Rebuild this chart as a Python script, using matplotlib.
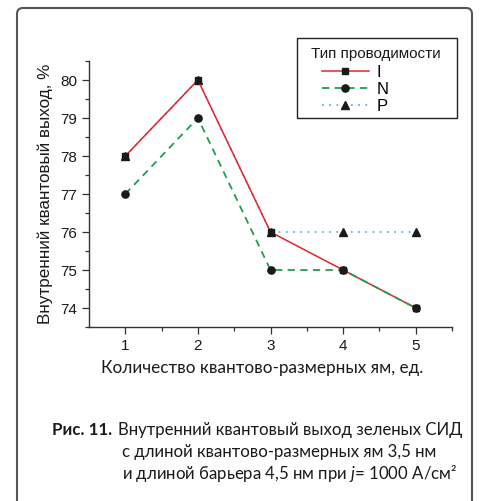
import matplotlib as mpl
mpl.use('Agg')
import matplotlib.pyplot as plt
from matplotlib.patches import FancyBboxPatch, Rectangle

# data
wells = [1, 2, 3, 4, 5]
eff_i = [78, 80, 76, 75, 74]
eff_n = [77, 79, 75, 75, 74]
eff_p = [78, 80, 76, 76, 76]
series_labels = ['I', 'N', 'P']
legend_title = 'Тип проводимости'
xlabel = 'Количество квантово-размерных ям, ед.'
ylabel = 'Внутренний квантовый выход, %'

plt.rcParams['font.family'] = ['Liberation Sans', 'DejaVu Sans']
plt.rcParams['mathtext.fontset'] = 'custom'
plt.rcParams['mathtext.rm'] = 'Lato'
plt.rcParams['mathtext.it'] = 'Lato:italic'

W, H = 482, 501


def fx(px):
    return px / W


def fy(py):
    return 1 - py / H


fig = plt.figure(figsize=(4.82, 5.01), dpi=100)
ax = fig.add_axes([fx(89), fy(327), fx(452) - fx(89), fy(61) - fy(327)])

ax.plot(wells, eff_i, color='#e8202a', lw=1.1, marker='s', ms=5,
        mfc='#1a1a1a', mec='#1a1a1a', label=series_labels[0], zorder=3)
ax.plot(wells, eff_n, color='#1f9e4f', lw=1.3, ls=(0, (4, 3)), marker='o',
        ms=5.2, mfc='#1a1a1a', mec='#1a1a1a', label=series_labels[1], zorder=4)
ax.plot(wells, eff_p, color='#5ab6e8', lw=1.3, ls=(0, (1, 3)), marker='^',
        ms=6, mfc='#1a1a1a', mec='#1a1a1a', label=series_labels[2], zorder=2)

ax.set_xlim(0.5, 5.5)
ax.set_ylim(73.5, 80.5)
ax.set_xticks(wells)
ax.set_xticks([1.5, 2.5, 3.5, 4.5, 5.5], minor=True)
ax.set_yticks([74, 75, 76, 77, 78, 79, 80])
ax.set_yticks([73.5, 74.5, 75.5, 76.5, 77.5, 78.5, 79.5, 80.5], minor=True)
ax.spines['top'].set_visible(False)
ax.spines['right'].set_visible(False)
for s in ('left', 'bottom'):
    ax.spines[s].set_color('#333333')
    ax.spines[s].set_linewidth(1.0)
ax.tick_params(which='major', length=5, width=0.9, color='#333333',
               labelsize=11, labelcolor='#1a1a1a')
ax.tick_params(which='minor', length=3, width=0.9, color='#333333')
ax.set_xlabel(xlabel, fontsize=12.3, family=['Lato', 'DejaVu Sans'],
              color='#1a1a1a')
ax.xaxis.set_label_coords(0.477, -0.125)
ax.set_ylabel(ylabel, fontsize=12.3, color='#1a1a1a', labelpad=5)

# legend: frame + title + entries
fig.patches.append(Rectangle((fx(297), fy(118)), fx(457) - fx(297),
                             fy(38) - fy(118), transform=fig.transFigure,
                             fill=False, edgecolor='#222222', lw=1.0))
fig.text(fx(376), fy(54), legend_title, fontsize=11, ha='center',
         va='center', color='#1a1a1a')
leg = fig.legend(loc='upper left', bbox_to_anchor=(fx(322), fy(65)),
                 fontsize=12, frameon=False, handlelength=2.8,
                 handletextpad=0.45, labelspacing=0.12, borderpad=0,
                 borderaxespad=0)

# outer rounded frame
frame = FancyBboxPatch((fx(17), -0.05), fx(472) - fx(17), fy(8) + 0.05,
                       boxstyle='round,pad=0,rounding_size=0.012',
                       transform=fig.transFigure, fill=False,
                       edgecolor='#555555', lw=1.5)
fig.patches.append(frame)

cap_font = ['Lato', 'DejaVu Sans']
fig.text(fx(52), fy(430), 'Рис. 11.', fontsize=12.2, weight='bold',
         family=cap_font, va='center', color='#1a1a1a')
fig.text(fx(118), fy(430), 'Внутренний квантовый выход зеленых СИД',
         fontsize=12.1, family=cap_font, va='center', color='#1a1a1a')
fig.text(fx(122), fy(452), 'с длиной квантово-размерных ям 3,5 нм',
         fontsize=12.1, family=cap_font, va='center', color='#1a1a1a')
fig.text(fx(122), fy(474),
         'и длиной барьера 4,5 нм при $j$= 1000 А/см²',
         fontsize=12.1, family=cap_font, va='center', color='#1a1a1a')

fig.savefig('out.png', dpi=100)
